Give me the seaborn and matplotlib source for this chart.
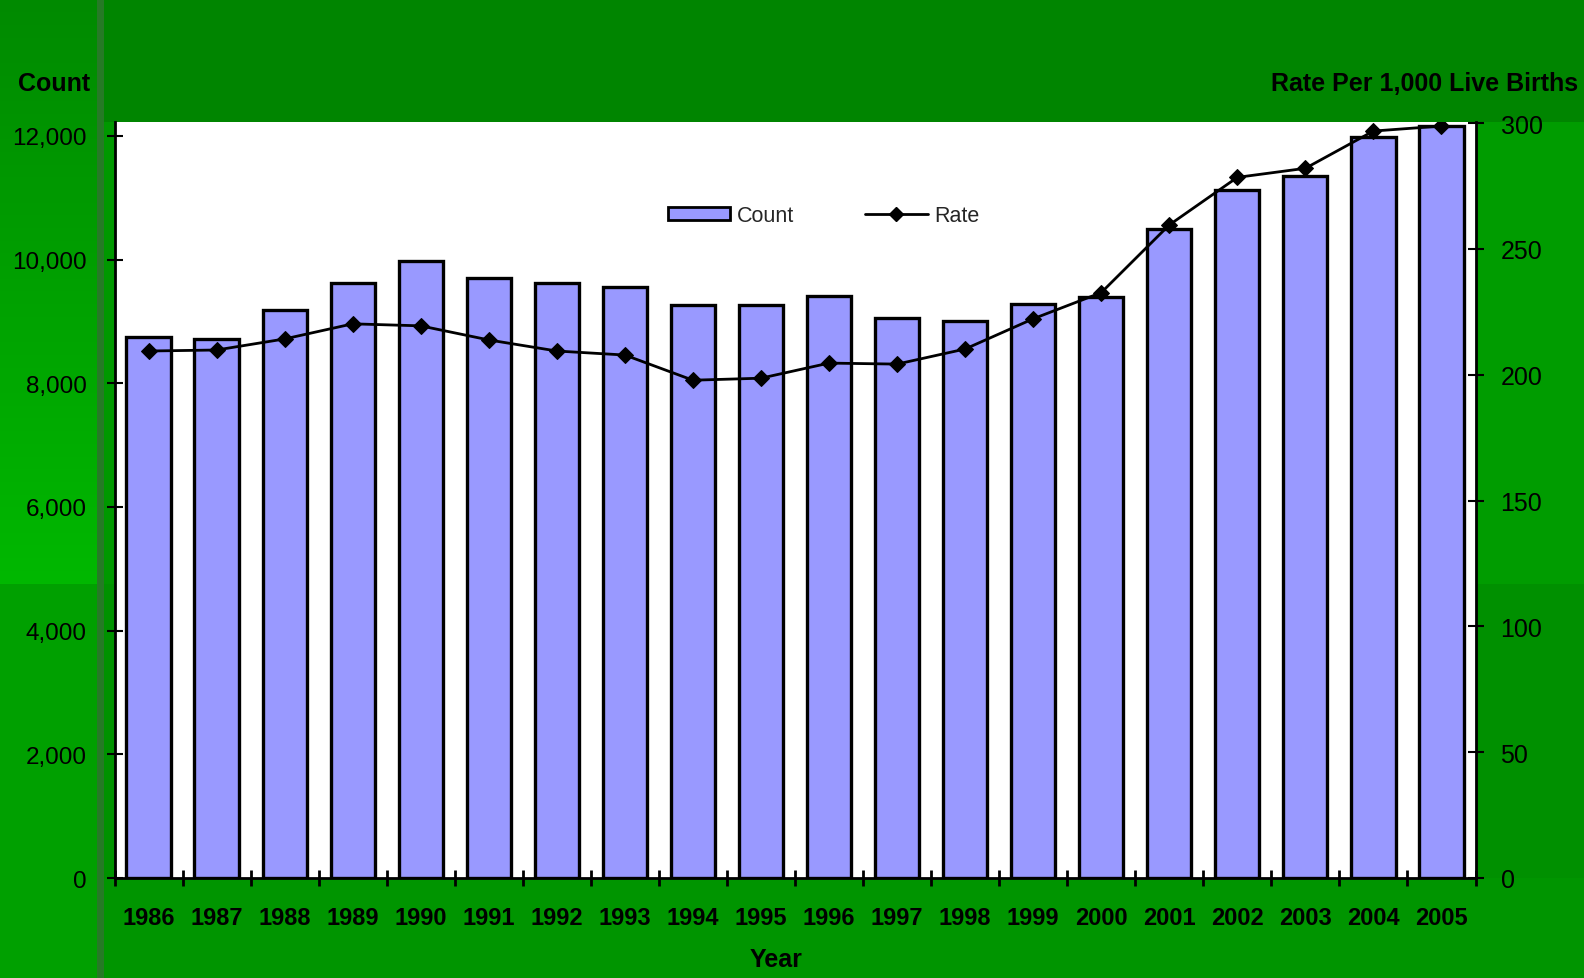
import numpy as np
import pandas as pd
import matplotlib
matplotlib.use("Agg")
import matplotlib.pyplot as plt
from matplotlib.patches import Patch
from matplotlib.lines import Line2D
import seaborn as sns

# Data
years = ["1986", "1987", "1988", "1989", "1990", "1991", "1992", "1993", "1994", "1995",
         "1996", "1997", "1998", "1999", "2000", "2001", "2002", "2003", "2004", "2005"]
counts = [8750, 8720, 9190, 9630, 9975, 9700, 9630, 9550, 9260, 9260,
          9420, 9060, 9010, 9290, 9400, 10500, 11130, 11360, 11980, 12160]
rates = [209.4, 209.8, 214.2, 220.2, 219.4, 213.8, 209.4, 207.8, 197.8, 198.6,
         204.6, 204.2, 210.2, 222.2, 232.6, 259.5, 278.4, 282.0, 296.8, 298.8]
count_ticks = [0, 2000, 4000, 6000, 8000, 10000, 12000]
rate_ticks = [0, 50, 100, 150, 200, 250, 300]

df = pd.DataFrame({"year": years, "count": counts, "rate": rates})

sns.set_theme(style="white")
plt.rcParams["font.family"] = ["Liberation Sans", "DejaVu Sans"]

W, H = 1584, 979
fig = plt.figure(figsize=(W / 100, H / 100), dpi=100)

# Slide background
bg = np.zeros((H, W, 3), dtype=float)
bg[:, :] = (0, 0x94, 0)
ys = np.arange(H)
top_g = np.interp(ys[:585], [0, 584], [0x8a, 0xb8])
bg[:585, :97, 1] = top_g[:, None]
bg[585:, :97] = (0, 0xa0, 0)
bg[:, 97:104] = (0x26, 0x7a, 0x26)
bg[:123, 104:] = (0, 0x85, 0)
bg[123:585, 104:115] = (0, 0x98, 0)
bg[585:, 104:115] = (0, 0x92, 0)
bg[123:585, 1476:] = (0, 0x9c, 0)
bg[585:, 1476:] = (0, 0x90, 0)
bg[879:, 104:] = (0, 0x95, 0)
bg_ax = fig.add_axes([0, 0, 1, 1], zorder=-10)
bg_ax.imshow(bg / 255.0, aspect="auto", interpolation="nearest")
bg_ax.axis("off")

# Plot area
left, right, bottom, top = 114.5, 1475.5, 879, 123
ax = fig.add_axes([left / W, 1 - bottom / H, (right - left) / W, (bottom - top) / H])
ax.set_facecolor("white")

sns.barplot(data=df, x="year", y="count", ax=ax, color="#9999ff", width=0.65,
            edgecolor="black", linewidth=2.4, saturation=1)
ax.set_xlim(-0.5, len(years) - 0.5)
ax.set_ylim(0, 12226)
ax.set_xlabel("")
ax.set_ylabel("")

ax2 = ax.twinx()
sns.lineplot(x=np.arange(len(years)), y=df["rate"], ax=ax2, color="black",
             linewidth=2.0, marker="D", markersize=8, markeredgecolor="black")
ax2.set_ylim(0, 300.4)
ax2.set_ylabel("")

# Spines
for a in (ax, ax2):
    a.spines["top"].set_visible(False)
for s in ("left", "bottom"):
    ax.spines[s].set_color("black")
    ax.spines[s].set_linewidth(2)
ax.spines["right"].set_visible(False)
ax2.spines["left"].set_visible(False)
ax2.spines["bottom"].set_visible(False)
ax2.spines["right"].set_color("black")
ax2.spines["right"].set_linewidth(2)

# Ticks
ax.set_yticks(count_ticks)
ax.set_yticklabels([f"{v:,}" for v in count_ticks])
ax.tick_params(axis="y", direction="inout", length=12, width=1.5, pad=14,
               labelsize=17.5, colors="black", left=True)
ax2.set_yticks(rate_ticks)
ax2.set_yticklabels([str(v) for v in rate_ticks])
ax2.tick_params(axis="y", direction="inout", length=12, width=1.5, pad=12,
                labelsize=18, colors="black", right=True)

ax.set_xticks(np.arange(len(years)))
ax.set_xticklabels(years, fontweight="bold")
ax.set_xticks(np.arange(len(years) + 1) - 0.5, minor=True)
ax.tick_params(axis="x", which="major", length=0, pad=20, labelsize=17, colors="black")
ax.tick_params(axis="x", which="minor", direction="inout", length=12, width=2,
               color="black", bottom=True)

# Axis titles
fig.text(18 / W, 1 - 84 / H, "Count", ha="left", va="center",
         fontsize=18, fontweight="heavy", color="black")
fig.text(1578 / W, 1 - 84 / H, "Rate Per 1,000 Live Births", ha="right", va="center",
         fontsize=18, fontweight="heavy", color="black")
fig.text(776 / W, 1 - 960 / H, "Year", ha="center", va="center",
         fontsize=18, fontweight="bold", color="black")

# Legend
handles = [Patch(facecolor="#9999ff", edgecolor="black", linewidth=2),
           Line2D([0], [0], color="black", linewidth=2, marker="D", markersize=7)]
fig.legend(handles, ["Count", "Rate"], loc="center left",
           bbox_to_anchor=(668 / W, 1 - 217 / H), ncol=2, frameon=False,
           fontsize=15.5, handlelength=2.9, handleheight=0.55, handletextpad=0.3,
           columnspacing=3.3, borderpad=0, borderaxespad=0)

fig.savefig("out.png", dpi=100)
